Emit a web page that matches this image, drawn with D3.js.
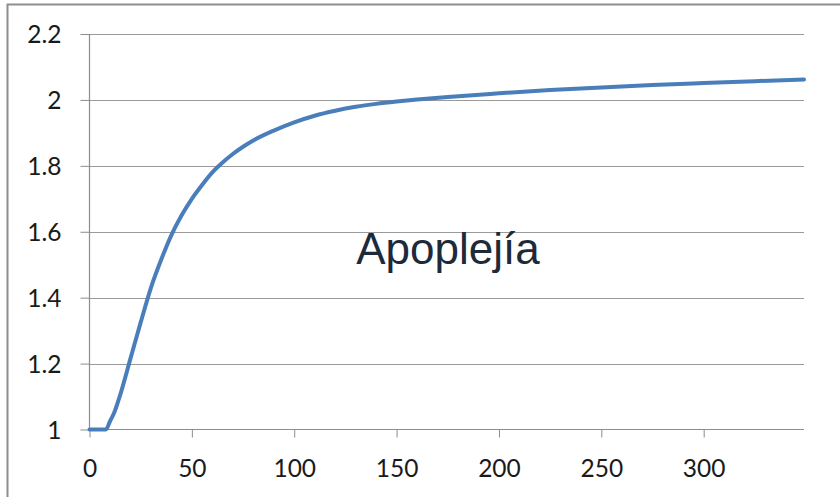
<!DOCTYPE html>
<html>
<head>
<meta charset="utf-8">
<script src="https://cdn.jsdelivr.net/npm/d3@7"></script>
<style>
  html, body { margin: 0; padding: 0; background: #fff; }
  svg { display: block; }
</style>
</head>
<body>
<svg id="chart" width="840" height="497"></svg>
<script>
// Data
const xValues = [0, 5, 8, 10, 12, 15, 20, 25, 30, 35, 40, 45, 50, 55, 60, 65, 70, 75, 80, 90, 100, 110, 120, 130, 140, 150, 160, 175, 200, 225, 250, 275, 300, 325, 349];
const yValues = [1.0, 1.0, 1.0, 1.025, 1.05, 1.105, 1.215, 1.325, 1.43, 1.515, 1.59, 1.65, 1.70, 1.742, 1.78, 1.81, 1.836, 1.858, 1.877, 1.907, 1.932, 1.952, 1.967, 1.979, 1.988, 1.995, 2.001, 2.009, 2.02, 2.03, 2.038, 2.045, 2.051, 2.057, 2.062];
const xTicks = [0, 50, 100, 150, 200, 250, 300];
const yTicks = [1, 1.2, 1.4, 1.6, 1.8, 2, 2.2];
const yTickLabels = ["1", "1.2", "1.4", "1.6", "1.8", "2", "2.2"];
const annotation = "Apoplejía";

const svg = d3.select("#chart");

const x = d3.scaleLinear().domain([0, 349]).range([89.5, 804]);
const y = d3.scaleLinear().domain([1, 2.2]).range([429.5, 34]);

// outer frame
svg.append("rect")
  .attr("x", 7.5).attr("y", 4.5)
  .attr("width", 900).attr("height", 600)
  .attr("fill", "none")
  .attr("stroke", "#8e8e8e")
  .attr("stroke-width", 2);

// gridlines
svg.append("g").selectAll("line")
  .data(yTicks.filter(d => d !== 1))
  .join("line")
  .attr("x1", x(0)).attr("x2", x.range()[1])
  .attr("y1", d => Math.round(y(d)) + 0.5).attr("y2", d => Math.round(y(d)) + 0.5)
  .attr("stroke", "#9a9a9a").attr("stroke-width", 1);

// Y axis
const yAxis = d3.axisLeft(y)
  .tickValues(yTicks)
  .tickSize(9)
  .tickPadding(19)
  .tickFormat((d, i) => yTickLabels[i]);
const gy = svg.append("g").attr("transform", `translate(${x(0)},0)`).call(yAxis);
gy.select(".domain").remove();
gy.selectAll(".tick line").attr("stroke", "#8c8c8c");
gy.selectAll(".tick text")
  .attr("font-family", "Lato, 'Open Sans', sans-serif")
  .attr("font-size", 24.5)
  .attr("fill", "#1a1a1a")
  .attr("dy", "0.36em");

// X axis
const xAxis = d3.axisBottom(x)
  .tickValues(xTicks)
  .tickSize(8)
  .tickFormat(d3.format("d"));
const gx = svg.append("g").attr("transform", `translate(0,${y(1)})`).call(xAxis);
gx.select(".domain").remove();
gx.selectAll(".tick line").attr("stroke", "#8c8c8c");
gx.selectAll(".tick text")
  .attr("font-family", "Lato, 'Open Sans', sans-serif")
  .attr("font-size", 24.5)
  .attr("fill", "#1a1a1a")
  .attr("y", 47.5)
  .attr("dy", null);

// axis lines
svg.append("line")
  .attr("x1", x(0)).attr("x2", x(0))
  .attr("y1", y(2.2)).attr("y2", y(1))
  .attr("stroke", "#8c8c8c").attr("stroke-width", 1.2);
svg.append("line")
  .attr("x1", x(0)).attr("x2", x.range()[1])
  .attr("y1", y(1)).attr("y2", y(1))
  .attr("stroke", "#8c8c8c").attr("stroke-width", 1.2);

// series line
const line = d3.line()
  .x((d, i) => x(xValues[i]))
  .y(d => y(d))
  .curve(d3.curveMonotoneX);
svg.append("path")
  .datum(yValues)
  .attr("d", line)
  .attr("fill", "none")
  .attr("stroke", "#4a7ebb")
  .attr("stroke-width", 4)
  .attr("stroke-linejoin", "round")
  .attr("stroke-linecap", "round");

// annotation
svg.append("text")
  .attr("x", 448).attr("y", 264)
  .attr("text-anchor", "middle")
  .attr("font-family", "'Liberation Sans', Arial, sans-serif")
  .attr("font-size", 44)
  .attr("fill", "#1c2a3a")
  .text(annotation);
</script>
</body>
</html>
